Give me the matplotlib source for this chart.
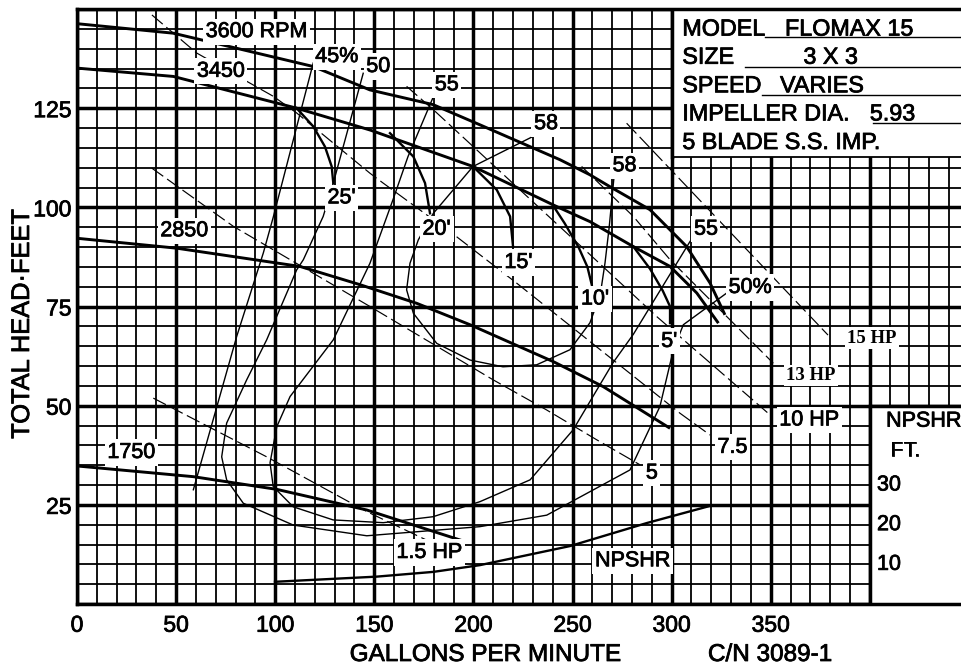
import matplotlib
matplotlib.use('Agg')
import matplotlib.pyplot as plt
import matplotlib.patheffects as pe
from matplotlib.patches import Rectangle

plt.rcParams['font.family'] = ['Liberation Sans', 'DejaVu Sans']

# ---------------- data ----------------
gpm_ticks = [0, 50, 100, 150, 200, 250, 300, 350]
head_ticks = [25, 50, 75, 100, 125]

# head-capacity curves (GPM, feet)
q_3600 = [0, 48.6, 119.2, 147.8, 179.6, 203.3, 243.7, 258.8, 268.9, 289.1, 307.6, 319.4, 326.9]
h_3600 = [146.3, 143.9, 135.5, 129.6, 125.9, 120.8, 112.0, 108.2, 105.2, 99.4, 90.1, 80.9, 72.9]
q_3450 = [0, 48.6, 110.8, 147.8, 199.8, 242.0, 258.8, 280.7, 299.2, 312.7, 323.6]
h_3450 = [135.1, 133.0, 125.0, 119.5, 110.3, 100.2, 96.4, 90.1, 85.1, 78.4, 70.8]
q_2850 = [0, 50.3, 112.5, 142.8, 171.4, 198.3, 240.3, 265.5, 299.2]
h_2850 = [92.2, 89.7, 85.1, 80.5, 75.8, 70.4, 61.1, 54.8, 44.3]
q_1750 = [0, 58.7, 100.8, 146.2, 194.1]
h_1750 = [34.8, 32.1, 28.9, 23.7, 16.0]

# NPSHR curve (GPM, feet)
q_npshr = [99.9, 151.2, 179.8, 203.3, 248.7, 287.4, 319.9]
h_npshr = [5.6, 6.9, 8.1, 9.8, 14.6, 20.4, 24.8]

# suction-lift break-off curves
q_sl25 = [110.8, 119.2, 125.1, 128.5, 129.3]
h_sl25 = [125.0, 120.4, 115.3, 110.3, 106.1]
q_sl20 = [157.9, 169.7, 175.6, 178.1]
h_sl20 = [118.7, 112.8, 106.1, 98.5]
q_sl15 = [199.8, 211.8, 218.5, 220.0]
h_sl15 = [110.3, 104.4, 97.7, 90.1]
q_sl10 = [240.0, 246.0, 253.0, 257.5, 259.7]
h_sl10 = [100.6, 96.0, 90.0, 85.0, 80.5]
q_sl5 = [280.7, 289.1, 295.5, 299.2, 299.2]
h_sl5 = [90.1, 84.5, 79.0, 75.0, 70.8]

# efficiency curves
q_eff45 = [58.7, 80.6, 94.0, 99.0, 119.2]
h_eff45 = [28.8, 67.5, 88.5, 97.5, 136.4]
q_eff50 = [144.4, 129.3, 124.2, 114.2, 110.8, 95.7, 85.6, 75.5, 73.0, 75.5, 83.9, 109.1,
           146.2, 203.3, 237.0, 279.0, 294.1, 300.9, 305.9, 327.8]
h_eff50 = [133.8, 106.1, 97.7, 86.8, 84.2, 66.6, 56.5, 45.6, 37.1, 31.3, 25.4, 19.9,
           17.2, 19.5, 22.4, 33.8, 49.8, 64.1, 70.4, 78.4]
q_eff55 = [179.8, 167.0, 159.4, 147.8, 129.3, 107.5, 100.8, 97.4, 99.0, 109.1, 129.2, 154.5,
           179.6, 203.3, 228.6, 250.3, 270.4, 280.7, 309.3]
h_eff55 = [127.9, 112.8, 101.9, 85.9, 66.6, 52.3, 44.7, 35.6, 29.6, 24.5, 21.2, 20.5,
           22.0, 25.8, 31.3, 43.9, 60.8, 68.0, 91.4]
q_eff58 = [230.2, 199.8, 179.8, 172.2, 168.0, 166.3, 169.7, 181.5, 198.3, 214.9, 231.9, 248.7,
           258.8, 264.0, 266.4, 268.5, 271.0]
h_eff58 = [117.9, 110.3, 98.5, 91.8, 85.9, 79.2, 73.3, 65.7, 61.5, 59.8, 60.3, 64.1,
           70.9, 78.0, 86.0, 95.0, 108.0]

# horsepower lines
q_hp15 = [277.3, 378.9]
h_hp15 = [121.2, 67.8]
q_hp13 = [254.6, 280.7, 299.2, 351.3]
h_hp13 = [110.3, 97.7, 86.8, 60.7]
q_hp10 = [166.3, 179.8, 259.0, 292.4, 349.6]
h_hp10 = [130.5, 124.6, 88.0, 72.5, 47.7]
q_hp75 = [37.8, 60.4, 99.0, 110.8, 147.8, 154.5, 191.5, 221.8, 304.2, 319.4]
h_hp75 = [148.5, 138.9, 128.0, 123.8, 108.6, 106.1, 92.6, 80.9, 48.1, 42.6]
q_hp5 = [37.7, 78.9, 147.8, 210.0, 237.0, 262.2, 284.0]
h_hp5 = [109.9, 95.2, 75.0, 56.5, 48.9, 41.4, 35.1]
q_hp15s = [38.5, 95.7, 146.2, 176.4]
h_hp15s = [51.9, 37.1, 23.3, 16.1]

npshr_ft_ticks = [30, 20, 10]

curve_labels = [
    ('3600 RPM', 90.6, 144.3), ('3450', 72.6, 134.3), ('2850', 54.1, 94.1), ('1750', 27.4, 38.2),
    ('45%', 131.0, 138.0), ('50', 152.0, 135.5), ('55', 186.5, 130.9), ('58', 236.6, 121.1),
    ('58', 276.2, 110.5), ('55', 317.3, 94.5), ('50%', 339.6, 79.8),
    ("25'", 133.5, 102.4), ("20'", 181.5, 94.5), ("15'", 222.7, 86.1), ("10'", 261.4, 76.9),
    ("5'", 298.8, 66.2),
    ('10 HP', 369.4, 46.4), ('7.5', 330.7, 39.5), ('5', 290.0, 33.0), ('1.5 HP', 177.7, 13.0),
    ('NPSHR', 280.3, 10.9),
]
serif_labels = [('15 HP', 401.0, 67.0), ('13 HP', 370.2, 57.6)]

# ---------------- figure ----------------
W, H = 961, 667
fig = plt.figure(figsize=(W / 100, H / 100), dpi=100)
ax = fig.add_axes([77 / W, (H - 604) / H, (W - 77) / W, (604 - 9) / H])
XMAX = 446
ax.set_xlim(0, XMAX)
ax.set_ylim(0, 150)

heavy = [pe.withStroke(linewidth=0.55, foreground='black')]

MINOR, MAJOR = 1.3, 2.5
for gx in range(0, XMAX + 1, 10):
    ax.axvline(gx, color='black', lw=MAJOR if gx % 50 == 0 else MINOR, zorder=1)
for gy in range(0, 151, 5):
    ax.axhline(gy, color='black', lw=MAJOR if gy % 25 == 0 else MINOR, zorder=1)

# blank panels (title block and NPSHR scale)
ax.add_patch(Rectangle((300, 112.7), 200, 40, fc='white', ec='none', zorder=1.5))
ax.add_patch(Rectangle((400, -2), 100, 52, fc='white', ec='none', zorder=1.5))
ax.plot([300, 300], [112.7, 150], color='black', lw=MAJOR, zorder=1.6)
ax.plot([300, XMAX], [112.7, 112.7], color='black', lw=MINOR, zorder=1.6)
ax.plot([400, 400], [0, 50], color='black', lw=MAJOR, zorder=1.6)
ax.plot([400, XMAX], [50, 50], color='black', lw=MAJOR, zorder=1.6)

for s in ['left', 'bottom', 'top']:
    ax.spines[s].set_linewidth(MAJOR)
    ax.spines[s].set_zorder(1.7)
ax.spines['right'].set_visible(False)

# head curves
for q, h in [(q_3600, h_3600), (q_3450, h_3450), (q_2850, h_2850), (q_1750, h_1750)]:
    ax.plot(q, h, color='black', lw=2.1, zorder=3, solid_capstyle='butt')
ax.plot(q_npshr, h_npshr, color='black', lw=1.7, zorder=3)

for q, h in [(q_sl25, h_sl25), (q_sl20, h_sl20), (q_sl15, h_sl15), (q_sl10, h_sl10), (q_sl5, h_sl5)]:
    ax.plot(q, h, color='black', lw=1.7, zorder=3)

for q, h in [(q_eff45, h_eff45), (q_eff50, h_eff50), (q_eff55, h_eff55), (q_eff58, h_eff58)]:
    ax.plot(q, h, color='black', lw=1.0, zorder=3)

for q, h in [(q_hp15, h_hp15), (q_hp13, h_hp13), (q_hp10, h_hp10), (q_hp75, h_hp75),
             (q_hp5, h_hp5), (q_hp15s, h_hp15s)]:
    ax.plot(q, h, color='black', lw=0.85, zorder=3, linestyle=(0, (12, 4)))

box = dict(boxstyle='square,pad=0.12', fc='white', ec='none')
for txt, x, y in curve_labels:
    ax.text(x, y, txt, ha='center', va='center', fontsize=15.5, zorder=5, bbox=box,
            path_effects=heavy)
for txt, x, y in serif_labels:
    ax.text(x, y, txt, ha='center', va='center', fontsize=13.5, fontweight='bold',
            family=['Liberation Serif', 'DejaVu Serif'], zorder=5, bbox=box)

# NPSHR scale on the right
ax.text(408.2, 46.1, 'NPSHR', ha='left', va='center', fontsize=15.5, zorder=5, path_effects=heavy)
ax.text(410.2, 38.6, 'FT.', ha='left', va='center', fontsize=15.5, zorder=5, path_effects=heavy)
for v in npshr_ft_ticks:
    ax.text(403.6, v, str(v), ha='left', va='center', fontsize=15.5, zorder=5, path_effects=heavy)

# title block
title_rows = [('MODEL', 143.3), ('SIZE', 136.2), ('SPEED', 129.0), ('IMPELLER DIA.', 121.9),
              ('5 BLADE S.S. IMP.', 114.7)]
for txt, yb in title_rows:
    ax.text(305.4, yb, txt, ha='left', va='baseline', fontsize=16.8, zorder=5, path_effects=heavy)
ax.text(357.2, 143.3, 'FLOMAX 15', ha='left', va='baseline', fontsize=16.8, zorder=5, path_effects=heavy)
ax.text(366.5, 136.2, '3 X 3', ha='left', va='baseline', fontsize=16.8, zorder=5, path_effects=heavy)
ax.text(354.7, 129.0, 'VARIES', ha='left', va='baseline', fontsize=16.8, zorder=5, path_effects=heavy)
ax.text(400.0, 121.9, '5.93', ha='left', va='baseline', fontsize=16.8, zorder=5, path_effects=heavy)
for x0, yu in [(347.1, 142.9), (337.0, 135.5), (345.5, 128.4), (401.5, 121.2)]:
    ax.plot([x0, XMAX], [yu, yu], color='black', lw=1.0, zorder=5)

# ticks
ax.set_xticks(gpm_ticks)
ax.set_yticks(head_ticks)
ax.tick_params(axis='both', length=0, labelsize=16.5)
ax.tick_params(axis='x', pad=7)
ax.tick_params(axis='y', pad=4)
for lab in ax.get_xticklabels() + ax.get_yticklabels():
    lab.set_path_effects(heavy)

fig.text(485 / W, 1 - 655 / H, 'GALLONS PER MINUTE', ha='center', va='center', fontsize=17.5,
         path_effects=heavy)
fig.text(770 / W, 1 - 655 / H, 'C/N 3089-1', ha='center', va='center', fontsize=17.5,
         path_effects=heavy)
fig.text(22 / W, 1 - 324 / H, 'TOTAL HEAD·FEET', ha='center', va='center', fontsize=18.3,
         rotation=90, path_effects=heavy)

fig.savefig('out.png', dpi=100, facecolor='white')
